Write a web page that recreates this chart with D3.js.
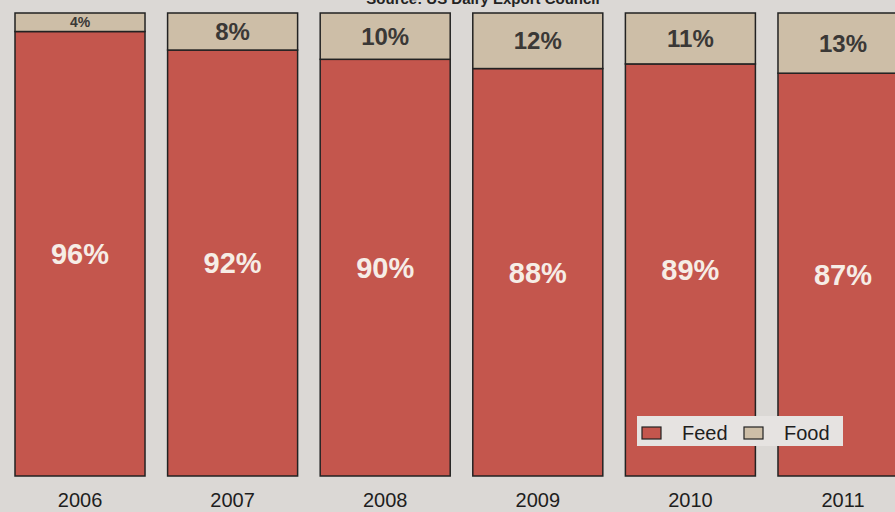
<!DOCTYPE html>
<html>
<head>
<meta charset="utf-8">
<script src="https://cdn.jsdelivr.net/npm/d3@7"></script>
<style>
  body { margin: 0; background: #dbd8d5; }
  svg { display: block; font-family: "Liberation Sans", Arial, sans-serif; }
</style>
</head>
<body>
<div id="chart"></div>
<script>
// data
const years = ["2006", "2007", "2008", "2009", "2010", "2011"]
const feed = [96, 92, 90, 88, 89, 87]
const food = [4, 8, 10, 12, 11, 13]
const series_names = ["Feed", "Food"]

const width = 895, height = 512

const colors = { Feed: "#c4564d", Food: "#cdbea7" }

const svg = d3.select("#chart").append("svg")
    .attr("width", width)
    .attr("height", height)

svg.append("rect")
    .attr("width", width).attr("height", height)
    .attr("fill", "#dbd8d5")

// scales
const xScale = d3.scaleBand()
    .domain(years)
    .range([15, 908])
    .paddingInner(0.148)
    .paddingOuter(0)

const yScale = d3.scaleLinear().domain([0, 100]).range([476, 13])

const rows = years.map((y, i) => ({ year: y, Feed: feed[i], Food: food[i] }))
const stacked = d3.stack().keys(series_names)(rows)

// source line, cut off by the top edge like in the print
svg.append("text")
    .attr("x", 483).attr("y", 4)
    .attr("text-anchor", "middle")
    .attr("font-size", 15).attr("font-weight", "bold")
    .attr("fill", "#222")
    .text("Source: US Dairy Export Council")

// bars
const layers = svg.selectAll("g.layer")
    .data(stacked)
    .join("g")
    .attr("class", "layer")
    .attr("fill", d => colors[d.key])

layers.selectAll("rect")
    .data(d => d)
    .join("rect")
    .attr("x", d => xScale(d.data.year))
    .attr("y", d => yScale(d[1]))
    .attr("width", xScale.bandwidth())
    .attr("height", d => yScale(d[0]) - yScale(d[1]))
    .attr("stroke", "#222")
    .attr("stroke-width", 1.5)

// feed labels
svg.selectAll("text.feed")
    .data(stacked[0])
    .join("text")
    .attr("class", "feed")
    .attr("x", d => xScale(d.data.year) + xScale.bandwidth() / 2)
    .attr("y", d => (yScale(d[0]) + yScale(d[1])) / 2)
    .attr("dy", "0.36em")
    .attr("text-anchor", "middle")
    .attr("font-size", 29).attr("font-weight", "bold")
    .attr("fill", "#f6ede6")
    .text(d => d.data.Feed + "%")

// food labels
svg.selectAll("text.food")
    .data(stacked[1])
    .join("text")
    .attr("class", "food")
    .attr("x", d => xScale(d.data.year) + xScale.bandwidth() / 2)
    .attr("y", d => (yScale(d[0]) + yScale(d[1])) / 2)
    .attr("dy", "0.36em")
    .attr("text-anchor", "middle")
    .attr("font-size", d => d.data.Food < 6 ? 14 : 24)
    .attr("font-weight", "bold")
    .attr("fill", "#3a3836")
    .text(d => d.data.Food + "%")

// x axis (labels only)
const x_axis = d3.axisBottom(xScale).tickSize(0).tickPadding(0)
const gx = svg.append("g")
    .attr("transform", "translate(0,492)")
    .call(x_axis)
gx.select(".domain").remove()
gx.selectAll("text")
    .attr("font-size", 20)
    .attr("font-family", "\"Liberation Sans\", Arial, sans-serif")
    .attr("fill", "#1e1e1e")
    .attr("dy", "0.75em")

// legend
const legend = svg.append("g").attr("transform", "translate(637,416)")
legend.append("rect")
    .attr("width", 206).attr("height", 30)
    .attr("fill", "#e6e3e1")
const legend_x = [5, 107]
series_names.forEach((name, i) => {
    legend.append("rect")
        .attr("x", legend_x[i]).attr("y", 11)
        .attr("width", 19).attr("height", 12)
        .attr("fill", colors[name])
        .attr("stroke", "#222").attr("stroke-width", 1.2)
    legend.append("text")
        .attr("x", legend_x[i] + 40).attr("y", 17)
        .attr("dy", "0.35em")
        .attr("font-size", 20)
        .attr("fill", "#1e1e1e")
        .text(name)
})
</script>
</body>
</html>
